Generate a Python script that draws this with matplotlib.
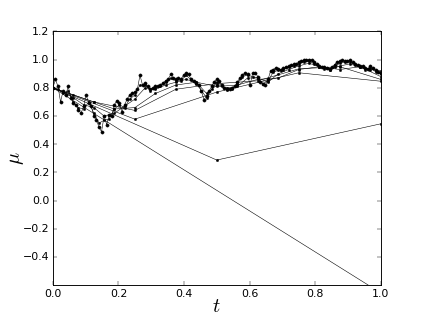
import numpy as np
import matplotlib
matplotlib.use("Agg")
import matplotlib.pyplot as plt

plt.style.use("classic")

# Levels of refinement: values of mu at t = k / 2^n
level0 = [0.80, -0.654]
level1 = [0.80, 0.288, 0.545]
level2 = [0.80, 0.578, 0.77, 0.907, 0.847]
level3 = [0.80, 0.70, 0.64, 0.79, 0.83, 0.85, 0.935, 0.95, 0.86]
level4 = [0.80, 0.75, 0.70, 0.65, 0.66, 0.76, 0.82, 0.84, 0.81, 0.82, 0.86,
          0.87, 0.93, 0.95, 0.93, 0.95, 0.88]
level5 = [0.80, 0.77, 0.73, 0.68, 0.66, 0.60, 0.62, 0.67, 0.72, 0.80, 0.79,
          0.82, 0.84, 0.86, 0.84, 0.76, 0.82, 0.80, 0.81, 0.87, 0.87, 0.84,
          0.90, 0.93, 0.955, 0.975, 0.95, 0.93, 0.955, 0.97, 0.945, 0.93, 0.92]
level6 = [0.80, 0.79, 0.76, 0.78, 0.70, 0.66, 0.65, 0.70, 0.62, 0.55, 0.57,
          0.58, 0.65, 0.68, 0.66, 0.72, 0.75, 0.82, 0.82, 0.78, 0.80, 0.81,
          0.84, 0.87, 0.85, 0.85, 0.89, 0.855, 0.83, 0.78, 0.73, 0.79, 0.84,
          0.815, 0.785, 0.79, 0.83, 0.88, 0.89, 0.88, 0.87, 0.83, 0.85, 0.91,
          0.925, 0.93, 0.945, 0.955, 0.97, 0.985, 0.99, 0.97, 0.945, 0.935,
          0.925, 0.95, 0.975, 0.98, 0.985, 0.96, 0.945, 0.93, 0.94, 0.915, 0.90]
level7 = [0.80, 0.86, 0.81, 0.70, 0.78, 0.75, 0.81, 0.73, 0.69, 0.68, 0.645,
          0.62, 0.67, 0.75, 0.69, 0.67, 0.60, 0.575, 0.52, 0.49, 0.60, 0.54,
          0.61, 0.60, 0.68, 0.71, 0.69, 0.63, 0.68, 0.72, 0.75, 0.76, 0.77,
          0.79, 0.89, 0.82, 0.835, 0.81, 0.79, 0.80, 0.81, 0.815, 0.82, 0.835,
          0.85, 0.86, 0.895, 0.87, 0.86, 0.87, 0.86, 0.89, 0.905, 0.895, 0.86,
          0.85, 0.835, 0.82, 0.776, 0.716, 0.74, 0.776, 0.81, 0.845, 0.86,
          0.85, 0.82, 0.80, 0.79, 0.795, 0.80, 0.81, 0.84, 0.87, 0.89, 0.907,
          0.895, 0.82, 0.905, 0.907, 0.88, 0.845, 0.83, 0.82, 0.86, 0.92, 0.93,
          0.94, 0.935, 0.93, 0.94, 0.95, 0.955, 0.96, 0.966, 0.966, 0.985,
          0.99, 0.997, 0.997, 1.0, 0.997, 0.98, 0.966, 0.955, 0.95, 0.945,
          0.94, 0.935, 0.945, 0.965, 0.983, 0.99, 0.997, 0.99, 0.99, 0.997,
          0.98, 0.97, 0.96, 0.955, 0.955, 0.94, 0.935, 0.955, 0.94, 0.925,
          0.915, 0.905]

levels = [level0, level1, level2, level3, level4, level5, level6, level7]
x_ticks = [0.0, 0.2, 0.4, 0.6, 0.8, 1.0]
y_ticks = [-0.4, -0.2, 0.0, 0.2, 0.4, 0.6, 0.8, 1.0, 1.2]

fig = plt.figure(figsize=(6.4, 4.8), dpi=66.1)
ax = fig.add_subplot(111)

for i, vals in enumerate(levels):
    t = np.linspace(0.0, 1.0, len(vals))
    ms = 7 if i == len(levels) - 1 else 5
    ax.plot(t, vals, color="k", linestyle="-", linewidth=0.6,
            marker=".", markersize=ms, markeredgecolor="k")

ax.set_xlim(0.0, 1.0)
ax.set_ylim(-0.6, 1.2)
ax.set_xticks(x_ticks)
ax.set_yticks(y_ticks)
ax.set_xlabel(r"$t$", fontsize=22, labelpad=-2)
ax.set_ylabel(r"$\mu$", fontsize=22, labelpad=-4)

fig.savefig("out.png", dpi=66.1)
